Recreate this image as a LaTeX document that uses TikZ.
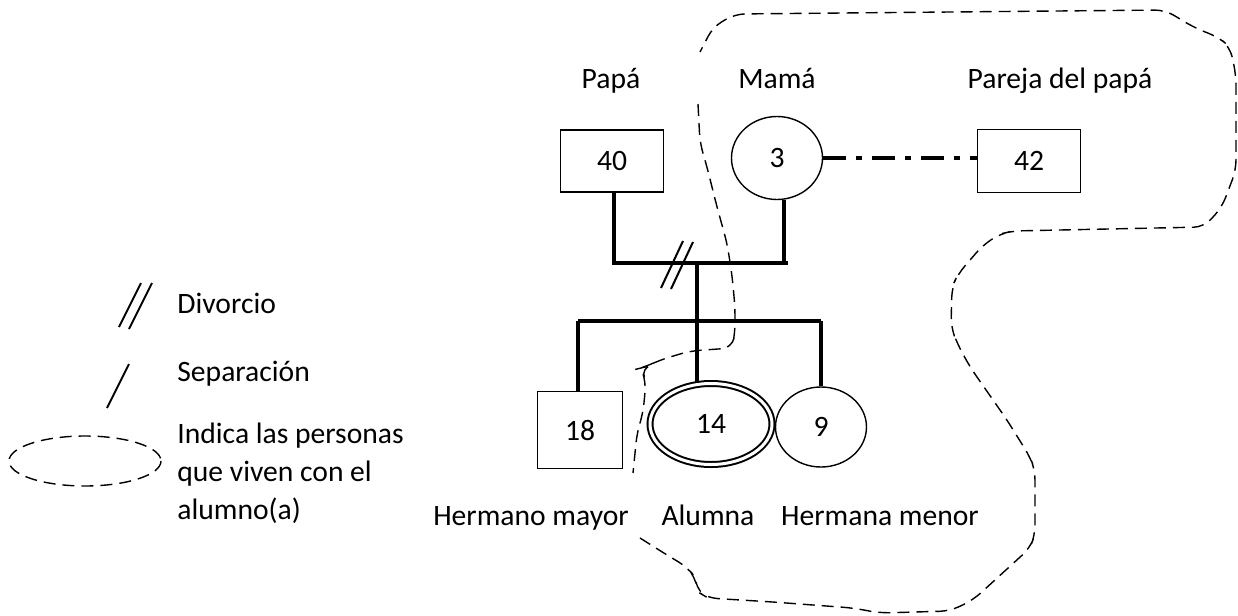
\documentclass[tikz,border=0pt]{standalone}
\usepackage{fontspec}
\setmainfont{Carlito}
\usetikzlibrary{shapes.geometric,calc}

\tikzset{
  person/.style={draw, line width=0.7pt, inner sep=0pt},
  male/.style={person, rectangle},
  female/.style={person, ellipse, text height=1.9ex, text depth=0pt},
  tie/.style={line width=2pt},
  livewith/.style={line width=0.7pt, dash pattern=on 6pt off 3.5pt, rounded corners=5pt},
  label/.style={inner sep=1pt, text height=1.55ex, text depth=0.45ex}
}

\begin{document}
\begin{tikzpicture}[x=0.5pt, y=-0.5pt, font=\fontsize{14.8}{19}\selectfont]
  \useasboundingbox (0,0) rectangle (1238,616);

  % padres y pareja
  \node[male, minimum width=51.5pt, minimum height=31pt] (papa) at (612,161) {40};
  \node[female, minimum width=45.5pt, minimum height=41.5pt] (mama) at (777,158) {3};
  \node[male, minimum width=51.5pt, minimum height=31.5pt] (pareja) at (1029,161) {42};
  \node[label] (lpapa) at (611,83) {Papá};
  \node[label] (lmama) at (777,83) {Mamá};
  \node[label] (lpareja) at (1060,83) {Pareja del papá};

  % hijos
  \node[male, minimum width=42.5pt, minimum height=38.5pt] (mayor) at (580,430) {18};
  \node[female, double, line width=1pt, double distance=1.5pt,
        minimum width=61pt, minimum height=40.5pt] (alumna) at (711,424) {14};
  \node[female, minimum width=45.5pt, minimum height=40pt] (menor) at (821,427) {9};
  \node[label] (lmayor) at (531,520) {Hermano mayor};
  \node[label] (lalumna) at (708,520) {Alumna};
  \node[label] (lmenor) at (880,520) {Hermana menor};

  % lineas de union
  \coordinate (pl) at (614,263);
  \coordinate (pr) at (788,263);
  \coordinate (mid) at (697,263);
  \coordinate (kids) at (697,321);
  \coordinate (kl) at (578,321);
  \coordinate (kr) at (821,321);
  \coordinate (div) at (677,264);
  \draw[tie] (papa.south -| pl) -- (pl) -- (pr);
  \draw[tie] (mama.-80) -- (mama.-80 |- pr);
  \draw[tie] (mid) -- (kids);
  \draw[tie] (kl) -- (kr);
  \draw[tie] (kl) -- (kl |- mayor.north);
  \draw[tie] (kids) -- (kids |- alumna.north);
  \draw[tie] (kr) -- (menor.north);
  \draw[tie, dash pattern=on 11.5pt off 5pt on 3pt off 5pt] (mama.east) -- (mama.east -| pareja.west);
  % divorcio
  \draw[line width=1pt] ($(div)+(-16,24)$) -- ($(div)+(6,-23)$);
  \draw[line width=1pt] ($(div)+(-6,25)$) -- ($(div)+(16,-22)$);

  % personas que viven con la alumna
  \draw[livewith] (640,538) -- (667,555) -- (687,567) -- (695,577) -- (698,592)
    -- (708,598) -- (773,602) -- (853,608) -- (880,613) -- (950,611) -- (973,600)
    -- (1030,548) -- (1035,535) -- (1035,470) -- (1030,457) -- (1007,420)
    -- (970,367) -- (957,343) -- (951,327) -- (952,287) -- (958,274) -- (983,245)
    -- (1000,234) -- (1012,231) -- (1204,227) -- (1222,207) -- (1236,170)
    -- (1236,75) -- (1230,47) -- (1218,37) -- (1195,28) -- (1165,10)
    -- (735,14) -- (713,27) -- (700,52);
  \draw[livewith] (698,104) -- (700,143) -- (707,167) -- (717,207) -- (727,243)
    -- (732,275) -- (735,307) -- (735,333) -- (732,348) -- (690,351) -- (660,360)
    -- (645,367) -- (641,368) -- (646,382) -- (643,413) -- (637,433) -- (633,473);

  % simbologia
  \draw[line width=1pt] (119,327) -- (141,283);
  \draw[line width=1pt] (129,329) -- (152,283);
  \draw[line width=1pt] (107,408) -- (129,364);
  \draw[line width=0.7pt, dash pattern=on 6pt off 3.5pt] (85,461) ellipse [x radius=76, y radius=25];
  \node[label, anchor=west] (ldiv) at (175,308) {Divorcio};
  \node[label, anchor=west] (lsep) at (175,376) {Separación};
  \node[anchor=west, align=left, inner sep=1pt] (lviven) at (175,473) {Indica las personas\\que viven con el\\alumno(a)};
\end{tikzpicture}
\end{document}
